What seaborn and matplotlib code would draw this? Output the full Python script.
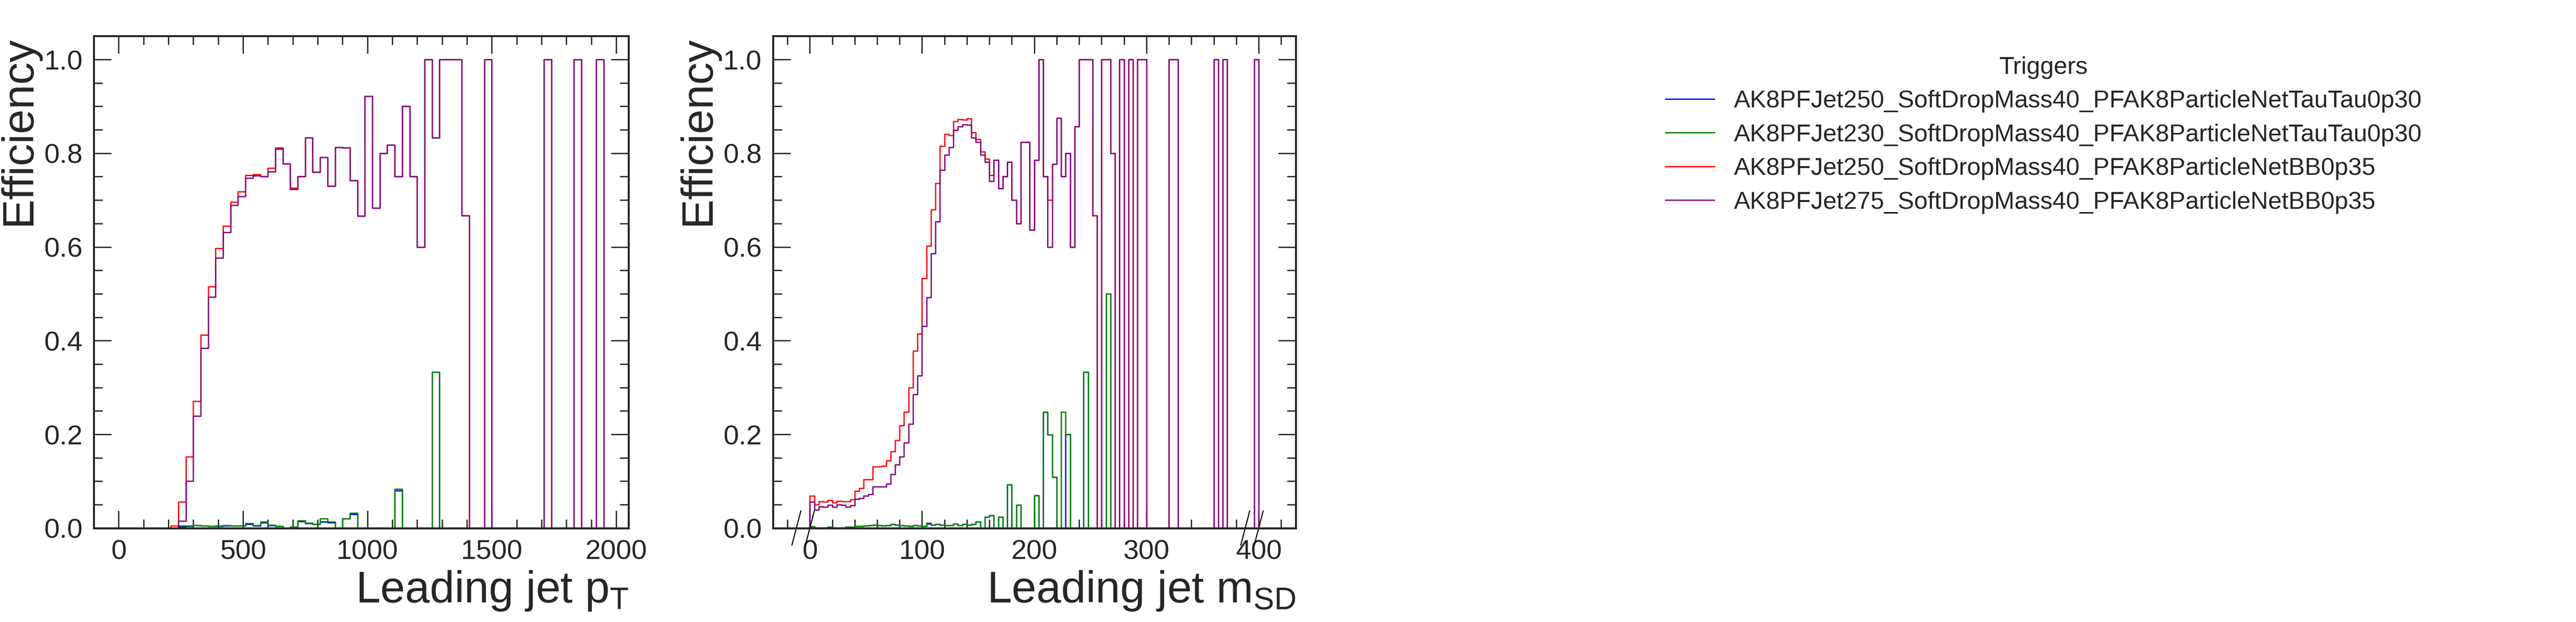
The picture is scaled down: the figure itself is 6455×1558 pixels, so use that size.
import numpy as np
import pandas as pd
import matplotlib
matplotlib.use("Agg")
import matplotlib.pyplot as plt
import seaborn as sns

triggers = [
    "AK8PFJet250_SoftDropMass40_PFAK8ParticleNetTauTau0p30",
    "AK8PFJet230_SoftDropMass40_PFAK8ParticleNetTauTau0p30",
    "AK8PFJet250_SoftDropMass40_PFAK8ParticleNetBB0p35",
    "AK8PFJet275_SoftDropMass40_PFAK8ParticleNetBB0p35",
]
colors = ["blue", "green", "red", "purple"]

# leading jet pT binning (59 bins of 30 GeV starting at 210)
pt_edges = [210 + 30 * i for i in range(60)]
pt_red = [0.005, 0.056, 0.152, 0.271, 0.412, 0.515, 0.597, 0.645, 0.696, 0.718,
          0.753, 0.755, 0.75, 0.768, 0.812, 0.778, 0.726, 0.75, 0.833, 0.76,
          0.791, 0.73, 0.813, 0.812, 0.742, 0.666, 0.922, 0.683, 0.80, 0.818,
          0.75, 0.90, 0.75, 0.60, 1.0, 0.833, 1.0, 1.0, 1.0, 0.667,
          0, 0, 1.0, 0, 0, 0, 0, 0, 0, 0,
          1.0, 0, 0, 0, 1.0, 0, 0, 1.0, 0]
pt_purple = [0.0, 0.015, 0.10, 0.239, 0.384, 0.493, 0.577, 0.631, 0.689, 0.708,
             0.747, 0.752, 0.75, 0.761, 0.809, 0.778, 0.723, 0.75, 0.833, 0.76,
             0.791, 0.73, 0.813, 0.812, 0.742, 0.666, 0.922, 0.683, 0.80, 0.818,
             0.75, 0.90, 0.75, 0.60, 1.0, 0.833, 1.0, 1.0, 1.0, 0.667,
             0, 0, 1.0, 0, 0, 0, 0, 0, 0, 0,
             1.0, 0, 0, 0, 1.0, 0, 0, 1.0, 0]
pt_green = [0, 0.005, 0.005, 0.006, 0.005, 0.004, 0.005, 0.006, 0.005, 0.005,
            0.01, 0.006, 0.013, 0.007, 0.004, 0, 0.002, 0.016, 0.011, 0.008,
            0.02, 0.013, 0, 0.02, 0.032, 0, 0, 0, 0, 0,
            0.083, 0, 0, 0, 0, 0.333, 0, 0, 0, 0,
            0, 0, 0, 0, 0, 0, 0, 0, 0, 0,
            0, 0, 0, 0, 0, 0, 0, 0, 0]
pt_blue = [0, 0.003, 0.004, 0.006, 0.005, 0.004, 0.004, 0.005, 0.005, 0.005,
           0.008, 0.005, 0.012, 0.006, 0.004, 0, 0.002, 0.014, 0.010, 0.008,
           0.013, 0.012, 0, 0.02, 0.03, 0, 0, 0, 0, 0,
           0.08, 0, 0, 0, 0, 0.333, 0, 0, 0, 0,
           0, 0, 0, 0, 0, 0, 0, 0, 0, 0,
           0, 0, 0, 0, 0, 0, 0, 0, 0]

# leading jet soft-drop mass binning (100 bins of 4 GeV)
msd_edges = [4 * i for i in range(101)]
msd_tail = [0.753, 0.785, 0.725, 0.75, 0.781, 0.70, 0.65, 0.824, 0.824, 0.636,
            0.785, 1.0, 0.75, 0.70, 0.777, 0.875, 0.75, 0.80, 0.60, 0.857,
            1.0, 1.0, 1.0, 0.667, 0, 1.0, 1.0, 0.8, 0, 1.0,
            0, 1.0, 0, 1.0, 1.0, 0, 0, 0, 0, 0,
            1.0, 1.0, 0, 0, 0, 0, 0, 0, 0, 0,
            1.0, 0, 1.0, 0, 0, 0, 0, 0, 0, 1.0]
msd_red = [0.069, 0.05, 0.057, 0.056, 0.059, 0.054, 0.058, 0.057, 0.057, 0.061,
           0.079, 0.085, 0.104, 0.104, 0.131, 0.131, 0.133, 0.144, 0.163, 0.187,
           0.219, 0.248, 0.30, 0.378, 0.415, 0.533, 0.602, 0.68, 0.736, 0.815,
           0.841, 0.838, 0.868, 0.872, 0.871, 0.874, 0.844, 0.83, 0.803, 0.788] + msd_tail
msd_purple_tail = list(msd_tail)
msd_purple_tail[0] = 0.74
msd_purple_tail[13] = 0.60
msd_purple = [0.056, 0.039, 0.046, 0.045, 0.049, 0.045, 0.05, 0.049, 0.045, 0.048,
              0.062, 0.064, 0.069, 0.072, 0.088, 0.088, 0.088, 0.094, 0.115, 0.135,
              0.152, 0.182, 0.222, 0.285, 0.325, 0.431, 0.492, 0.586, 0.654, 0.764,
              0.796, 0.813, 0.849, 0.857, 0.861, 0.86, 0.833, 0.824, 0.796, 0.781] + msd_purple_tail
msd_green = [0.003, 0.001, 0.001, 0.001, 0.002, 0.001, 0.001, 0.001, 0.002, 0.002,
             0.004, 0.004, 0.005, 0.006, 0.007, 0.006, 0.005, 0.006, 0.008, 0.007,
             0.006, 0.005, 0.004, 0.006, 0.005, 0.004, 0.011, 0.007, 0.008, 0.007,
             0.006, 0.006, 0.009, 0.006, 0.008, 0.007, 0.008, 0.013, 0, 0.024,
             0.027, 0, 0.024, 0, 0.093, 0, 0.049, 0, 0, 0,
             0.07, 0, 0.248, 0.199, 0.109, 0, 0.248, 0.2, 0, 0,
             0, 0.333, 0, 0, 0, 0, 0.5, 0, 0, 0] + [0] * 30
msd_blue = list(msd_green)
msd_blue[26] = 0.009
msd_blue[56] = 0.0

sns.set_theme(style="ticks")
plt.rcParams["font.family"] = ["Liberation Sans", "DejaVu Sans"]
plt.rcParams["mathtext.fontset"] = "custom"
plt.rcParams["mathtext.rm"] = "Liberation Sans"
plt.rcParams["mathtext.it"] = "Liberation Sans"

fig = plt.figure(figsize=(32.275, 7.79), dpi=200)
ax1 = fig.add_axes([0.0364, 0.151, 0.2076, 0.791])
ax2 = fig.add_axes([0.300, 0.151, 0.203, 0.791])


def draw(ax, edges, series):
    # step outline: rise from zero at first edge, fall back to zero at last edge
    for vals, c in zip(series, colors):
        xs = [edges[0]] + list(edges)
        ys = [0] + list(vals) + [0]
        df = pd.DataFrame({"x": xs, "y": ys})
        sns.lineplot(data=df, x="x", y="y", estimator=None, sort=False,
                     drawstyle="steps-post", color=c, linewidth=1.2, ax=ax)


draw(ax1, pt_edges, [pt_blue, pt_green, pt_red, pt_purple])
draw(ax2, msd_edges, [msd_blue, msd_green, msd_red, msd_purple])

ax1.set_xlim(-100, 2050)
ax2.set_xlim(-33, 433)
for ax, xl in [(ax1, r"Leading jet $p_\mathrm{T}$"), (ax2, r"Leading jet $m_\mathrm{SD}$")]:
    ax.set_ylim(0, 1.05)
    ax.set_xlabel(xl, fontsize=40, loc="right")
    ax.set_ylabel("Efficiency", fontsize=40, loc="top")
    ax.minorticks_on()
    ax.tick_params(which="both", direction="in", top=True, right=True, labelsize=25, width=1.2)
    ax.tick_params(which="major", length=16, pad=10)
    ax.tick_params(which="minor", length=8)
    for s in ax.spines.values():
        s.set_linewidth(1.8)
ax1.set_xticks([0, 500, 1000, 1500, 2000])
ax2.set_xticks([0, 100, 200, 300, 400])
ax2.set_xlim(-33, 433)
ax1.set_xlim(-100, 2050)

# axis break marks at under/overflow
trans = ax2.get_xaxis_transform()
for x0 in [0, 400]:
    for dx in [-12, 0]:
        ax2.plot([x0 + dx - 4, x0 + dx + 4], [-0.035, 0.035], color="black",
                 lw=1.0, transform=trans, clip_on=False)

handles = [plt.Line2D([], [], color=c, lw=1.2) for c in colors]
fig.legend(handles, triggers, title="Triggers", loc="upper left",
           bbox_to_anchor=(0.638, 0.945), frameon=False, fontsize=22,
           title_fontsize=22, handlelength=2.0, labelspacing=0.45)

fig.savefig("out.png", dpi=200)
plt.close(fig)
